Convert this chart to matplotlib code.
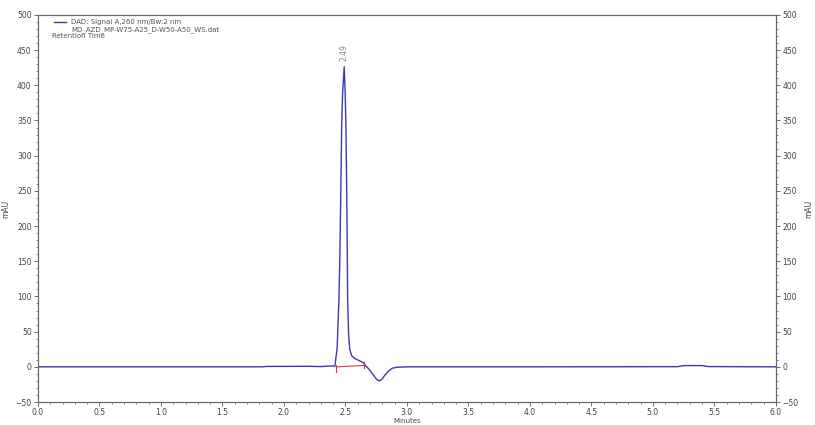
import matplotlib.pyplot as plt
from matplotlib.ticker import MultipleLocator

# chromatogram trace (minutes, mAU)
minutes = [0.0, 1.0, 1.82, 1.86, 2.2, 2.3, 2.37, 2.41, 2.415, 2.433, 2.447, 2.455,
           2.463, 2.469, 2.477, 2.490, 2.498, 2.504, 2.510, 2.514, 2.518, 2.526, 2.535,
           2.550, 2.575, 2.610, 2.645, 2.665, 2.690, 2.720, 2.750, 2.772, 2.795, 2.820,
           2.850, 2.880, 2.920, 2.97, 3.0, 4.0, 5.2, 5.25, 5.4, 5.45, 6.0]
signal = [0.0, 0.0, 0.0, 0.6, 0.8, 0.4, 1.2, 1.0, 1.5, 28, 95, 160,
          256, 341, 389, 426.5, 389, 341, 256, 180, 95, 45, 25,
          16, 12, 9, 6, 1.5, -3, -10, -17, -20, -18, -12,
          -6, -2, -0.5, -0.3, 0.0, 0.0, 0.3, 1.8, 1.8, 0.4, 0.0]

peak_time = 2.49
peak_height = 426.5
peak_label = '2.49'

# integration baseline (start / end of the peak)
base_t = [2.423, 2.653]
base_v = [0.0, 2.0]

legend_lines = ['DAD: Signal A,260 nm/Bw:2 nm', 'MD_AZD_MP-W75-A25_D-W50-A50_WS.dat']

grey = '#555555'
fig = plt.figure(figsize=(8.15, 4.25), dpi=100)
ax = fig.add_axes([0.0466, 0.054, 0.9054, 0.911])

ax.plot(minutes, signal, color='#3b3bb0', lw=1.0)

# red integration marks
ax.plot(base_t, base_v, color='#d04040', lw=0.8)
ax.plot([base_t[0], base_t[0]], [base_v[0] + 2.5, base_v[0] - 7], color='#d04040', lw=0.8)
ax.plot([base_t[1], base_t[1]], [base_v[1] + 5, base_v[1] - 3], color='#d04040', lw=0.8)

ax.annotate(peak_label, (peak_time, peak_height), xytext=(0, 4), textcoords='offset points',
            rotation=90, ha='center', va='bottom', fontsize=5.5, color='#888888')

ax.set_xlim(0, 6)
ax.set_ylim(-50, 500)
ax.xaxis.set_major_locator(MultipleLocator(0.5))
ax.xaxis.set_minor_locator(MultipleLocator(0.1))
ax.yaxis.set_major_locator(MultipleLocator(50))
ax.yaxis.set_minor_locator(MultipleLocator(10))
ax.xaxis.set_major_formatter(plt.FormatStrFormatter('%.1f'))

ax2 = ax.twinx()
ax2.set_ylim(-50, 500)
ax2.yaxis.set_major_locator(MultipleLocator(50))
ax2.yaxis.set_minor_locator(MultipleLocator(10))

for a in (ax, ax2):
    a.tick_params(which='major', length=3, width=0.6, color=grey, labelsize=5.5, labelcolor='#444444', pad=1.5)
    a.tick_params(which='minor', length=1.5, width=0.5, color=grey)
    for s in a.spines.values():
        s.set_color('#666666')
        s.set_linewidth(0.8)

ax.set_ylabel('mAU', fontsize=5.5, color='#444444', labelpad=4)
ax2.set_ylabel('mAU', fontsize=5.5, color='#444444', labelpad=4)
ax.set_xlabel('Minutes', fontsize=5, color='#444444', labelpad=0.5)

# legend block
ax.plot([0.13, 0.23], [490, 490], color='#3b3bb0', lw=1.0)
ax.text(0.27, 490, legend_lines[0], fontsize=5, color='#555555', va='center')
ax.text(0.27, 479.5, legend_lines[1], fontsize=5, color='#555555', va='center')
ax.text(0.115, 469.5, 'Retention Time', fontsize=5, color='#555555', va='center')

fig.savefig('out.png', dpi=100)
